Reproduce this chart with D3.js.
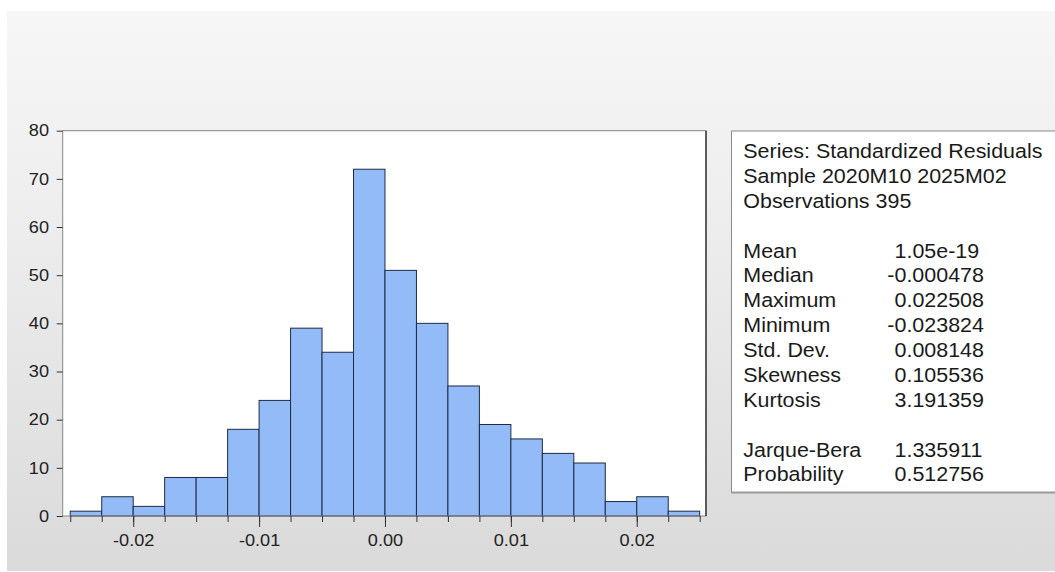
<!DOCTYPE html>
<html><head><meta charset="utf-8">
<script src="https://cdn.jsdelivr.net/npm/d3@7"></script>
<style>html,body{margin:0;padding:0;background:#fff;overflow:hidden}</style>
</head><body><svg id="c" width="1055" height="572"></svg>
<script>
// ---- data ----
const binEdges = [-0.025,-0.0225,-0.02,-0.0175,-0.015,-0.0125,-0.01,-0.0075,-0.005,-0.0025,0,0.0025,0.005,0.0075,0.01,0.0125,0.015,0.0175,0.02,0.0225,0.025];
const counts = [1,4,2,8,8,18,24,39,34,72,51,40,27,19,16,13,11,3,4,1];
const xTicks = [-0.02,-0.01,0,0.01,0.02];
const xTickLabels = ["-0.02","-0.01","0.00","0.01","0.02"];
const yTicks = [0,10,20,30,40,50,60,70,80];
const headerLines = ["Series: Standardized Residuals","Sample 2020M10 2025M02","Observations 395"];
const statNames = ["Mean","Median","Maximum","Minimum","Std. Dev.","Skewness","Kurtosis"];
const statValues = ["1.05e-19","-0.000478","0.022508","-0.023824","0.008148","0.105536","3.191359"];
const testNames = ["Jarque-Bera","Probability"];
const testValues = ["1.335911","0.512756"];

// ---- layout ----
const FONT = "'Liberation Sans', Arial, sans-serif";
const SX = 1.1; // horizontal stretch of text
const svg = d3.select("#c");
const defs = svg.append("defs");
const grad = defs.append("linearGradient").attr("id","bg").attr("x1",0).attr("y1",0).attr("x2",0).attr("y2",1);
grad.append("stop").attr("offset","0").attr("stop-color","#f6f6f6");
grad.append("stop").attr("offset","0.35").attr("stop-color","#eeeeee");
grad.append("stop").attr("offset","1").attr("stop-color","#dadada");

svg.append("rect").attr("width",1055).attr("height",572).attr("fill","#ffffff");
svg.append("rect").attr("x",7).attr("y",11).attr("width",1048).attr("height",560).attr("fill","url(#bg)");

const L = 62.7, R = 706, T = 130.7, B = 516;
const x = d3.scaleLinear().domain([-0.0256, 0.0255]).range([L, R]);
const y = d3.scaleLinear().domain([0, 80]).range([B, T]);

// plot frame background
svg.append("rect").attr("x",L).attr("y",T).attr("width",R-L).attr("height",B-T).attr("fill","#ffffff");

// bars
svg.append("g").selectAll("rect").data(counts).join("rect")
  .attr("x",(d,i)=>x(binEdges[i]))
  .attr("width",(d,i)=>x(binEdges[i+1])-x(binEdges[i]))
  .attr("y",d=>y(d))
  .attr("height",d=>y(0)-y(d))
  .attr("fill","#93bbf8")
  .attr("stroke","#1f2a44")
  .attr("stroke-width",1);

// frame
svg.append("rect").attr("x",L).attr("y",T).attr("width",R-L).attr("height",B-T)
  .attr("fill","none").attr("stroke","#858585").attr("stroke-width",1);
svg.append("line").attr("x1",R).attr("x2",R).attr("y1",T).attr("y2",B)
  .attr("stroke","#444").attr("stroke-width",1.6);

// x axis minor ticks
const gxm = svg.append("g").attr("transform",`translate(0,${B})`)
  .call(d3.axisBottom(x).tickValues(binEdges).tickSize(6).tickFormat(""));
gxm.select(".domain").remove();
gxm.selectAll("line").attr("stroke","#333");

// x axis major ticks + labels
const gx = svg.append("g").attr("transform",`translate(0,${B})`)
  .call(d3.axisBottom(x).tickValues(xTicks).tickSize(11).tickPadding(7).tickFormat((d,i)=>xTickLabels[i]));
gx.select(".domain").remove();
gx.selectAll("line").attr("stroke","#333");
gx.selectAll("text").attr("font-family",FONT).attr("font-size",16.5).attr("fill","#222")
  .attr("transform",`scale(${SX},1)`);

// y axis
const gy = svg.append("g").attr("transform",`translate(${L},0)`)
  .call(d3.axisLeft(y).tickValues(yTicks).tickSize(6).tickPadding(6.45));
gy.select(".domain").remove();
gy.selectAll("line").attr("stroke","#333");
gy.selectAll("text").attr("font-family",FONT).attr("font-size",16.5).attr("fill","#222")
  .attr("transform",`scale(${SX},1)`);

// stats box
const bx = 731.5, by = 131, bb = 492.5;
svg.append("rect").attr("x",bx).attr("y",by).attr("width",1060-bx).attr("height",bb-by)
  .attr("fill","#ffffff").attr("stroke","#8a8a8a").attr("stroke-width",1);
svg.append("line").attr("x1",bx).attr("x2",1055).attr("y1",bb).attr("y2",bb)
  .attr("stroke","#9a9a9a").attr("stroke-width",2);

const FS = 19.5;
const rowH = 24.88, row0 = 151;
const g = svg.append("g").attr("font-family",FONT).attr("font-size",FS).attr("fill","#1a1a1a");
function put(txt, xx, row){
  const cy = row0 + rowH*row + (row===0?0:0);
  g.append("text").attr("transform",`translate(${xx},${cy + 0.358*FS}) scale(${SX},1)`).text(txt);
}
const lx = 743.3, vx = 894.5, minusW = 0.333*FS*SX;
headerLines.forEach((t,i)=>put(t,lx,i));
statNames.forEach((t,i)=>{ put(t,lx,4+i); const v=statValues[i]; put(v, v.startsWith("-")?vx-minusW:vx, 4+i); });
testNames.forEach((t,i)=>{ put(t,lx,12+i); const v=testValues[i]; put(v, v.startsWith("-")?vx-minusW:vx, 12+i); });
</script></body></html>
